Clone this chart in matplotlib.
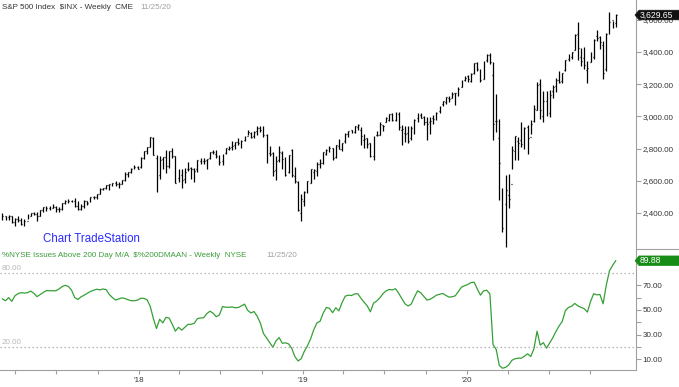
import matplotlib
matplotlib.use('Agg')
import matplotlib.pyplot as plt
import matplotlib.dates as mdates
from matplotlib.lines import Line2D
from matplotlib.patches import Polygon
import pandas as pd

plt.rcParams['font.family'] = ['Liberation Sans', 'DejaVu Sans']

# weekly S&P 500 bars, week ending Friday, starting 2017-03-03
highs = [
    2401, 2383, 2390, 2379, 2371, 2378, 2366, 2362, 2392, 2400, 2403, 2405, 2418, 2440, 2446, 2441,
    2454, 2443, 2435, 2464, 2479, 2484, 2478, 2490, 2474, 2454, 2481, 2475, 2500, 2508, 2520, 2552,
    2557, 2575, 2582, 2589, 2598, 2591, 2605, 2657, 2652, 2678, 2695, 2693,
    # 2018
    2748, 2787, 2810, 2873, 2870, 2763, 2754, 2747, 2790, 2787, 2801, 2752, 2674, 2672, 2680, 2718,
    2683, 2682, 2732, 2742, 2742, 2736, 2779, 2791, 2790, 2760, 2764, 2804, 2816, 2849, 2841, 2863,
    2855, 2877, 2917, 2903, 2908, 2941, 2940, 2940, 2889, 2816, 2778, 2756, 2815, 2785, 2747, 2760,
    2800, 2685, 2601, 2520,
    # 2019
    2539, 2598, 2675, 2670, 2718, 2738, 2776, 2795, 2813, 2804, 2823, 2861, 2836, 2894, 2911, 2918,
    2940, 2954, 2932, 2892, 2865, 2832, 2876, 2911, 2964, 2949, 2996, 3014, 3018, 3028, 3028, 2945,
    2943, 2939, 2941, 2985, 3021, 3022, 3002, 2993, 2993, 3008, 3027, 3067, 3097, 3121, 3127, 3154,
    3148, 3183, 3226, 3248,
    # 2020
    3258, 3268, 3330, 3338, 3293, 3347, 3385, 3393, 3336, 3137, 2985, 2553, 2637, 2641, 2819, 2880,
    2874, 2965, 2933, 2945, 2980, 3068, 3212, 3233, 3155, 3155, 3165, 3198, 3236, 3280, 3272, 3352,
    3387, 3399, 3509, 3588, 3425, 3428, 3342, 3397, 3482, 3534, 3501, 3466, 3520, 3646, 3594, 3635,
]
lows = [
    2358, 2354, 2355, 2335, 2322, 2344, 2328, 2322, 2361, 2378, 2387, 2353, 2380, 2403, 2415, 2419,
    2431, 2405, 2407, 2416, 2457, 2459, 2467, 2437, 2417, 2417, 2428, 2447, 2467, 2488, 2489, 2520,
    2541, 2547, 2544, 2566, 2566, 2557, 2577, 2600, 2624, 2646, 2674, 2673,
    # 2018
    2682, 2738, 2768, 2808, 2759, 2533, 2608, 2675, 2647, 2681, 2741, 2585, 2594, 2553, 2586, 2660,
    2612, 2594, 2652, 2701, 2707, 2676, 2735, 2764, 2743, 2698, 2698, 2768, 2788, 2791, 2795, 2825,
    2802, 2848, 2884, 2864, 2868, 2886, 2903, 2874, 2710, 2755, 2628, 2603, 2717, 2671, 2631, 2649,
    2621, 2583, 2409, 2347,
    # 2019
    2444, 2524, 2583, 2612, 2631, 2681, 2705, 2763, 2780, 2729, 2741, 2800, 2785, 2836, 2874, 2896,
    2898, 2913, 2825, 2801, 2805, 2750, 2728, 2880, 2886, 2911, 2963, 2973, 2972, 2969, 2914, 2822,
    2840, 2834, 2853, 2892, 2964, 2990, 2945, 2856, 2892, 2952, 2978, 3024, 3066, 3079, 3091, 3112,
    3070, 3124, 3184, 3220,
    # 2020
    3215, 3214, 3264, 3280, 3214, 3235, 3335, 3328, 2855, 2901, 2478, 2281, 2191, 2431, 2676, 2727,
    2726, 2812, 2797, 2767, 2892, 2966, 3039, 2984, 2965, 3003, 2999, 3116, 3152, 3209, 3205, 3279,
    3343, 3354, 3410, 3349, 3310, 3292, 3209, 3335, 3354, 3466, 3416, 3233, 3279, 3512, 3550, 3557,
]
closes = [
    2383, 2372, 2378, 2344, 2363, 2355, 2329, 2349, 2384, 2399, 2391, 2382, 2416, 2439, 2432, 2433,
    2438, 2423, 2425, 2459, 2472, 2472, 2476, 2441, 2426, 2444, 2477, 2461, 2500, 2502, 2519, 2549,
    2553, 2575, 2581, 2588, 2582, 2579, 2602, 2642, 2652, 2676, 2683, 2674,
    # 2018
    2743, 2786, 2810, 2873, 2762, 2620, 2732, 2747, 2691, 2786, 2752, 2588, 2641, 2604, 2656, 2670,
    2670, 2663, 2728, 2713, 2721, 2735, 2779, 2780, 2755, 2718, 2760, 2801, 2802, 2819, 2840, 2833,
    2850, 2875, 2902, 2872, 2905, 2930, 2914, 2885, 2767, 2768, 2659, 2723, 2781, 2736, 2633, 2760,
    2633, 2600, 2417, 2486,
    # 2019
    2532, 2596, 2671, 2665, 2707, 2708, 2776, 2793, 2804, 2743, 2822, 2800, 2834, 2893, 2907, 2905,
    2940, 2946, 2881, 2860, 2826, 2752, 2873, 2887, 2950, 2942, 2990, 3014, 2977, 3026, 2932, 2919,
    2889, 2847, 2926, 2979, 3007, 2992, 2962, 2952, 2970, 2986, 3023, 3067, 3093, 3120, 3110, 3141,
    3146, 3169, 3221, 3240,
    # 2020
    3235, 3265, 3330, 3295, 3226, 3328, 3380, 3338, 2954, 2972, 2711, 2305, 2541, 2489, 2790, 2875,
    2837, 2831, 2930, 2864, 2955, 3044, 3194, 3041, 3098, 3009, 3130, 3185, 3225, 3216, 3271, 3351,
    3373, 3397, 3508, 3427, 3341, 3319, 3298, 3348, 3477, 3484, 3465, 3270, 3510, 3585, 3558, 3629.65,
]
opens = [
    2367, 2383, 2372, 2378, 2344, 2363, 2355, 2329, 2349, 2384, 2399, 2391, 2382, 2416, 2439, 2432,
    2433, 2438, 2423, 2425, 2459, 2472, 2472, 2476, 2441, 2426, 2444, 2477, 2461, 2500, 2502, 2519,
    2549, 2553, 2575, 2581, 2588, 2582, 2579, 2602, 2642, 2652, 2676, 2683,
    # 2018
    2684, 2743, 2786, 2810, 2867, 2741, 2636, 2735, 2745, 2694, 2784, 2751, 2619, 2633, 2611, 2676,
    2680, 2675, 2671, 2722, 2725, 2727, 2744, 2779, 2765, 2742, 2723, 2770, 2797, 2810, 2821, 2838,
    2838, 2853, 2877, 2897, 2881, 2908, 2927, 2926, 2882, 2775, 2772, 2667, 2730, 2775, 2730, 2654,
    2790, 2630, 2593, 2400,
    # 2019
    2476, 2531, 2584, 2657, 2658, 2706, 2712, 2769, 2804, 2802, 2747, 2819, 2796, 2848, 2888, 2916,
    2904, 2937, 2917, 2852, 2863, 2832, 2751, 2886, 2886, 2948, 2964, 2979, 3013, 2977, 3014, 2914,
    2896, 2898, 2866, 2909, 2988, 3006, 2996, 2967, 2963, 2991, 2996, 3031, 3078, 3087, 3117, 3117,
    3144, 3141, 3183, 3227,
    # 2020
    3248, 3218, 3271, 3333, 3247, 3235, 3352, 3380, 3257, 2974, 2864, 2508, 2458, 2514, 2578, 2782,
    2845, 2854, 2815, 2937, 2869, 2969, 3038, 3199, 3000, 3098, 3018, 3155, 3191, 3224, 3218, 3288,
    3356, 3368, 3410, 3509, 3370, 3363, 3285, 3336, 3367, 3500, 3493, 3441, 3296, 3553, 3600, 3579,
]

# % NYSE issues above 200 day moving average, same weeks
breadth = [
    59, 57.5, 60, 57, 61.5, 63.3, 64, 63.7, 64, 65.3,
    63.5, 60.8, 62.5, 64.2, 65.7, 65.6, 65.6, 65.5, 67, 69,
    70, 69, 66, 60, 58.5, 60.6, 62, 63.5, 65, 66,
    66.8, 66.3, 67, 66.5, 62.5, 60, 58, 59, 59.8, 59.3,
    58.2, 57.5, 57.5, 58, 59.5, 59.4, 58.3, 53, 43, 35,
    42.5, 39.5, 44, 43.5, 38.5, 32.8, 36, 33.6, 36, 38.3,
    38.4, 39.2, 43, 43.5, 43.7, 47, 49, 47.4, 44.5, 46,
    52.8, 52.2, 52.2, 52.4, 51.8, 52, 53.4, 54.7, 49.7, 47.6,
    48.7, 45, 39.5, 31, 27.2, 23.5, 19.8, 25, 27.6, 23,
    23.4, 22.5, 18.8, 12.2, 8.7, 10.5, 16.5, 21, 26.6, 34,
    39.5, 40.8, 47.5, 52, 51.3, 47.8, 51.8, 49.3, 56, 61.2,
    62, 61.7, 63, 63.2, 59.5, 56.3, 53.3, 48.5, 55.5, 57.2,
    59.8, 63.2, 65.5, 66.6, 66.3, 67.2, 63.5, 59.3, 55, 53.2,
    54.8, 60.5, 65.5, 64, 61, 58, 58.7, 60.2, 62, 62.7,
    63.4, 61.8, 60.4, 60.7, 61.5, 65, 68.6, 69.7, 70.7, 72.2,
    72.5, 67, 62, 65.5, 66, 63, 22, 18, 5, 2.8,
    3.5, 5.5, 9.2, 10.5, 10.9, 10.9, 12.6, 14.5, 12.3, 18.5,
    32.8, 21.5, 23.5, 19, 23.3, 27.5, 32.6, 37, 40.7, 49.5,
    52.1, 53, 55.3, 53.3, 52.1, 51, 48.3, 56.8, 63.2, 62.3,
    62.5, 55, 70, 81.6, 86, 89.88,
]

price_ticks = [2400, 2600, 2800, 3000, 3200, 3400, 3600]
breadth_ticks = [10, 30, 50, 70]
breadth_minor = [20, 40, 60]
year_ticks = ['2018-01-01', '2019-01-01', '2020-01-01']
year_labels = ["'18", "'19", "'20"]
quarter_ticks = ['2017-04-01', '2017-07-01', '2017-10-01', '2018-04-01', '2018-07-01',
                 '2018-10-01', '2019-04-01', '2019-07-01', '2019-10-01', '2020-04-01',
                 '2020-07-01', '2020-10-01']

W, H = 679, 387
dates = pd.date_range('2017-03-03', periods=len(closes), freq='W-FRI')
x = mdates.date2num(dates)

fig = plt.figure(figsize=(W / 100, H / 100), dpi=100)
ax1 = fig.add_axes([0, 1 - 249 / H, 636 / W, 249 / H])
ax2 = fig.add_axes([0, 1 - 370 / H, 636 / W, 120 / H])

day_px = 0.4493
x0 = x[0] - 2.4 / day_px
x1 = x0 + 636 / day_px

grey = '#a0a0a0'
txt = '#333333'
fs = 5.8

# price bars
ax1.vlines(x, lows, highs, color='black', lw=0.9)
ax1.hlines(opens, x - 2.0, x, color='black', lw=0.9)
ax1.hlines(closes, x, x + 2.0, color='black', lw=0.9)
ax1.set_xlim(x0, x1)
ax1.set_ylim(2176, 3723)
ax1.set_xticks([])
ax1.yaxis.tick_right()
ax1.set_yticks(price_ticks)
ax1.set_yticklabels([f'{v:,.2f}' for v in price_ticks])

# breadth line
green = '#35a035'
ax2.plot(x, breadth, color=green, lw=0.9)
ax2.set_xlim(x0, x1)
ax2.set_ylim(1.35, 98.6)
for lvl in (80, 20):
    ax2.axhline(lvl, color='#b0b0b0', lw=0.9, ls=(0, (1.2, 2)))
    ax2.text(0.003, lvl + 1.0, f'{lvl:.2f}', transform=ax2.get_yaxis_transform(),
             fontsize=fs, color='#b8b8b8', va='bottom', ha='left')
ax2.yaxis.tick_right()
ax2.set_yticks(breadth_ticks)
ax2.set_yticklabels([f'{v:.2f}' for v in breadth_ticks])
ax2.set_yticks(breadth_minor, minor=True)
ax2.set_xticks(mdates.date2num(pd.to_datetime(year_ticks)))
ax2.set_xticklabels(year_labels)
ax2.set_xticks(mdates.date2num(pd.to_datetime(quarter_ticks)), minor=True)

for ax in (ax1, ax2):
    for s in ('top', 'left', 'bottom'):
        ax.spines[s].set_visible(False)
    ax.spines['right'].set_color(grey)
    ax.spines['right'].set_linewidth(0.8)
    ax.patch.set_alpha(0)
    ax.tick_params(axis='y', which='both', direction='out', length=3.5, width=0.8,
                   color=grey, labelsize=fs, labelcolor=txt, pad=1)
ax2.spines['bottom'].set_visible(True)
ax2.spines['bottom'].set_color(grey)
ax2.spines['bottom'].set_linewidth(0.8)
ax2.tick_params(axis='x', which='both', direction='out', length=3, width=0.8,
                color=grey, labelsize=fs, labelcolor=txt, pad=2)

# panel separator in the scale area
fig.add_artist(Line2D([636 / W, 1], [1 - 249.5 / H, 1 - 249.5 / H], color=grey, lw=0.8))


def px(xp, yp):
    return xp / W, 1 - yp / H


# last value labels: pointed box running to the right edge
def last_label(ax, val, text, fc):
    yc = ax.transData.transform((x1, val))[1]
    yc = H - yc
    pts = [px(635, yc), px(639, yc - 4.8), px(679, yc - 4.8), px(679, yc + 4.8), px(639, yc + 4.8)]
    fig.add_artist(Polygon(pts, closed=True, fc=fc, ec=fc, lw=0.5, zorder=5))
    fig.text(*px(640, yc), text, fontsize=6.2, color='white', va='center', ha='left', zorder=6)


fig.canvas.draw()
last_label(ax1, closes[-1], f'{closes[-1]:,.2f}', '#111111')
last_label(ax2, breadth[-1], f'{breadth[-1]:.2f}', '#178c17')

# titles
fig.text(*px(2, 7.5), 'S&P 500 Index  $INX - Weekly  CME', fontsize=fs, color=txt,
         va='center', ha='left')
fig.text(*px(140, 7.5), '11/25/20', fontsize=fs, color='#a0a0a0', va='center', ha='left')
fig.text(*px(2, 255.5), '%NYSE Issues Above 200 Day M/A  $%200DMAAN - Weekly  NYSE',
         fontsize=fs, color='#3c9c3c', va='center', ha='left')
fig.text(*px(266, 255.5), '11/25/20', fontsize=fs, color='#a0a0a0', va='center', ha='left')
fig.text(*px(43, 239), 'Chart TradeStation', fontsize=8.3, color='#2b2bff',
         va='center', ha='left')

fig.savefig('out.png', dpi=100)
